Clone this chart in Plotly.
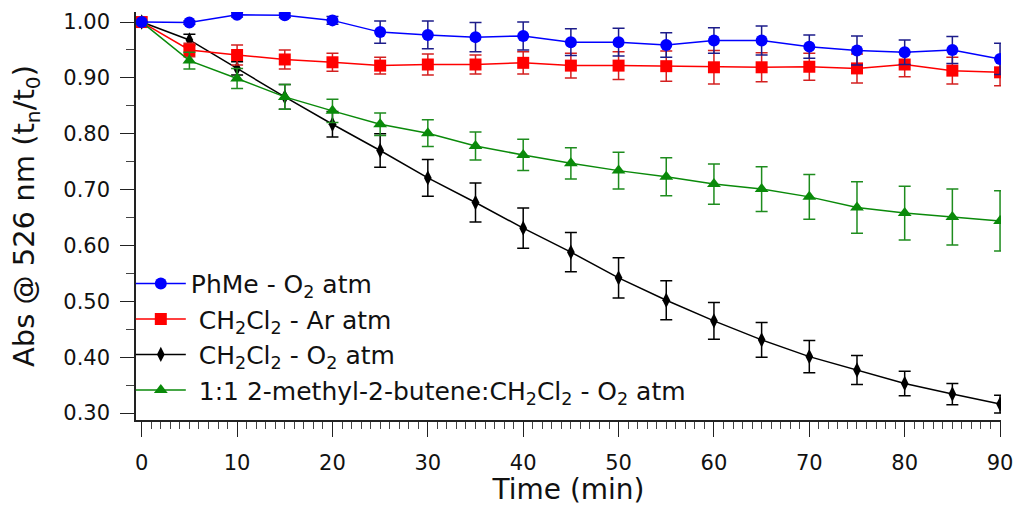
import plotly.graph_objects as go

time = [0, 5, 10, 15, 20, 25, 30, 35, 40, 45, 50, 55, 60, 65, 70, 75, 80, 85, 90]

phme_o2 = [1.000, 0.999, 1.013, 1.012, 1.003, 0.982, 0.977, 0.973, 0.975, 0.964, 0.964, 0.959, 0.967, 0.967, 0.956, 0.949, 0.946, 0.950, 0.934]
phme_o2_err = [0.0, 0.003, 0.004, 0.004, 0.007, 0.020, 0.025, 0.026, 0.025, 0.024, 0.025, 0.022, 0.023, 0.026, 0.021, 0.026, 0.022, 0.024, 0.028]

dcm_ar = [1.000, 0.950, 0.941, 0.933, 0.928, 0.922, 0.924, 0.924, 0.927, 0.922, 0.922, 0.921, 0.919, 0.919, 0.920, 0.917, 0.924, 0.913, 0.910]
dcm_ar_err = [0.0, 0.012, 0.018, 0.017, 0.016, 0.015, 0.019, 0.017, 0.020, 0.022, 0.025, 0.027, 0.030, 0.026, 0.024, 0.026, 0.022, 0.024, 0.024]

dcm_o2 = [1.000, 0.968, 0.917, 0.866, 0.817, 0.770, 0.721, 0.677, 0.631, 0.588, 0.542, 0.502, 0.465, 0.431, 0.401, 0.377, 0.353, 0.334, 0.316]
dcm_o2_err = [0.0, 0.010, 0.012, 0.022, 0.023, 0.030, 0.033, 0.035, 0.036, 0.035, 0.036, 0.035, 0.033, 0.031, 0.029, 0.026, 0.022, 0.019, 0.016]

mb_o2 = [1.000, 0.931, 0.899, 0.866, 0.841, 0.817, 0.801, 0.778, 0.762, 0.747, 0.734, 0.723, 0.710, 0.701, 0.687, 0.668, 0.658, 0.651, 0.644]
mb_o2_err = [0.0, 0.015, 0.018, 0.022, 0.021, 0.020, 0.024, 0.025, 0.028, 0.028, 0.033, 0.034, 0.036, 0.040, 0.040, 0.046, 0.048, 0.050, 0.054]

y_ticks = [0.30, 0.40, 0.50, 0.60, 0.70, 0.80, 0.90, 1.00]
y_tick_labels = ["0.30", "0.40", "0.50", "0.60", "0.70", "0.80", "0.90", "1.00"]
x_ticks = [0, 10, 20, 30, 40, 50, 60, 70, 80, 90]

series = [
    # name, y, err, line color, err color, symbol, size, rank
    (" CH<sub>2</sub>Cl<sub>2</sub> - O<sub>2</sub> atm", dcm_o2, dcm_o2_err, "#000000", "#000000", "diamond-tall", 11, 3),
    (" CH<sub>2</sub>Cl<sub>2</sub> - Ar atm", dcm_ar, dcm_ar_err, "#ff0000", "#d42020", "square", 12, 2),
    (" 1:1 2-methyl-2-butene:CH<sub>2</sub>Cl<sub>2</sub> - O<sub>2</sub> atm", mb_o2, mb_o2_err, "#0a8a0a", "#1e8c1e", "triangle-up", 12, 4),
    ("PhMe - O<sub>2</sub> atm", phme_o2, phme_o2_err, "#0000ff", "#1c1c8a", "circle", 12, 1),
]

FONT = "DejaVu Sans, Liberation Sans, Arial"

fig = go.Figure()
for name, y, err, col, ecol, sym, size, rank in series:
    fig.add_trace(go.Scatter(
        x=time, y=y, name=name, mode="lines+markers",
        line=dict(color=col, width=1.5),
        marker=dict(symbol=sym, size=size, color=col, line=dict(width=0)),
        error_y=dict(type="data", array=err, visible=True, color=ecol, thickness=1.5, width=6),
        legendrank=rank,
    ))

fig.update_layout(
    width=1018, height=506,
    paper_bgcolor="white", plot_bgcolor="white",
    margin=dict(l=136, r=17, t=12, b=86),
    font=dict(family=FONT, color="#111111"),
    showlegend=True,
    legend=dict(
        x=-0.006, y=0.018, xanchor="left", yanchor="bottom",
        bgcolor="rgba(255,255,255,0)",
        font=dict(family=FONT, size=25, color="#111111"),
        itemwidth=50, tracegroupgap=0,
    ),
    xaxis=dict(
        range=[-0.6, 90.1], automargin=False,
        tickvals=x_ticks, ticks="outside", ticklen=15, tickwidth=1.2, tickcolor="#222",
        tickfont=dict(size=21), ticklabelstandoff=8, ticklabeloverflow="allow",
        minor=dict(dtick=1, tick0=0, ticks="outside", ticklen=7, tickwidth=1, tickcolor="#444"),
        showline=True, linecolor="#222", linewidth=1.5,
        showgrid=False, zeroline=False,
        title=dict(text="Time (min)", font=dict(size=28), standoff=2),
    ),
    yaxis=dict(
        range=[0.2875, 1.018], automargin=False,
        tickvals=y_ticks, ticktext=y_tick_labels,
        ticks="outside", ticklen=14, tickwidth=1.2, tickcolor="#222",
        tickfont=dict(size=21), ticklabelstandoff=6,
        minor=dict(dtick=0.05, tick0=0.3, ticks="outside", ticklen=8, tickwidth=1, tickcolor="#444"),
        showline=True, linecolor="#222", linewidth=1.5,
        showgrid=False, zeroline=False,
        title=dict(text="Abs @ 526 nm (t<sub>n</sub>/t<sub>0</sub>)", font=dict(size=29), standoff=20),
    ),
)

fig.write_html("out.html")
